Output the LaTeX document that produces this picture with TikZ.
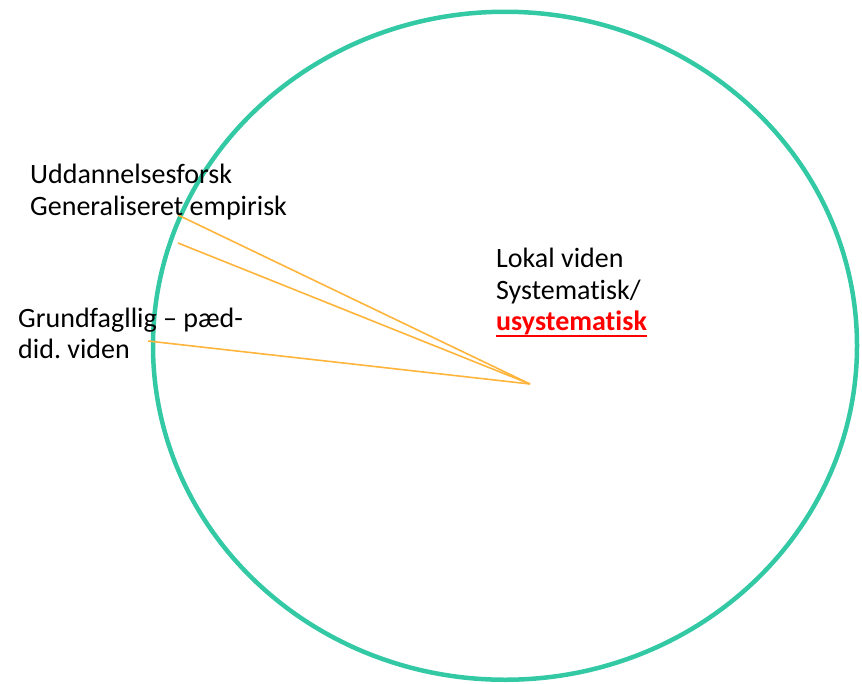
\documentclass[tikz,border=0pt]{standalone}
\usepackage{fontspec}
\setmainfont[Ligatures=NoCommon]{Carlito}
\frenchspacing
\usetikzlibrary{shapes.geometric}
\definecolor{circteal}{RGB}{52,201,165}
\definecolor{orng}{RGB}{255,180,60}
\definecolor{redt}{RGB}{255,0,0}
\begin{document}
\begin{tikzpicture}[x=1pt,y=-1pt,
  lbl/.style={anchor=base west,inner sep=0pt,font=\fontsize{28}{32}\selectfont},
  ray/.style={draw=orng,line width=1.6pt}]
\useasboundingbox (0,0) rectangle (862,683);
\node[draw=circteal,line width=4.5pt,ellipse,minimum width=704,minimum height=668,inner sep=0pt] (circ) at (505,345.75) {};
\coordinate (hub) at (530,384);
\coordinate (e1) at (178,215);
\coordinate (e2) at (178,243);
\coordinate (e3) at (148,341);
\draw[ray] (hub) -- (e1);
\draw[ray] (hub) -- (e2);
\draw[ray] (hub) -- (e3);
\node[lbl] (t1) at (30,183) {Uddannelsesforsk};
\node[lbl] (t2) at (30,215) {Generaliseret empirisk};
\node[lbl] (t3) at (18,327) {Grundfagllig – pæd-};
\node[lbl] (t4) at (18,358) {did.\ viden};
\node[lbl] (t5) at (496,267) {Lokal viden};
\node[lbl] (t6) at (496,299) {Systematisk/};
\node[lbl,text=redt] (t7) at (496,330) {\bfseries usystematisk};
\draw[redt,line width=2pt] ([yshift=-6pt]t7.base west) -- ([yshift=-6pt]t7.base east);
\end{tikzpicture}
\end{document}
